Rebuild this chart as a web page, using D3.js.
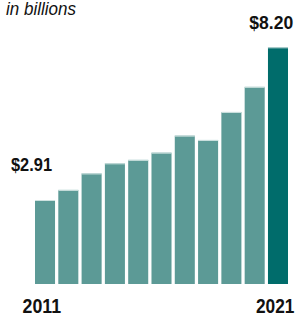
<!DOCTYPE html>
<html>
<head>
<meta charset="utf-8">
<script src="https://cdn.jsdelivr.net/npm/d3@7"></script>
<style>
  body { margin: 0; background: #fff; }
  text { font-family: "Liberation Sans", Arial, sans-serif; }
</style>
</head>
<body>
<div id="chart"></div>
<script>
const years = [2011, 2012, 2013, 2014, 2015, 2016, 2017, 2018, 2019, 2020, 2021];
const values = [2.91, 3.26, 3.83, 4.18, 4.30, 4.55, 5.14, 4.99, 5.96, 6.83, 8.20];
const valueLabels = ["$2.91", "", "", "", "", "", "", "", "", "", "$8.20"];
const tickYears = [2011, 2021];

const w = 296, h = 316;
const baseY = 284, topY = 47.3;

const svg = d3.select("#chart")
    .append("svg")
    .attr("width", w)
    .attr("height", h);

const x = d3.scaleBand()
    .domain(years)
    .range([35, 288])
    .paddingInner(0.14)
    .paddingOuter(0);

const y = d3.scaleLinear()
    .domain([0, 8.20])
    .range([baseY, topY]);

// subtitle, squeezed to look like the condensed face of the original
svg.append("text")
    .attr("x", 6)
    .attr("y", 15)
    .attr("textLength", 70)
    .attr("lengthAdjust", "spacingAndGlyphs")
    .style("font-style", "italic")
    .style("font-size", "18px")
    .attr("fill", "#111")
    .text("in billions");

const data = years.map((yr, i) => ({year: yr, value: values[i], label: valueLabels[i]}));

svg.selectAll("rect.bar")
    .data(data)
    .join("rect")
    .attr("class", "bar")
    .attr("x", d => x(d.year))
    .attr("y", d => y(d.value))
    .attr("width", x.bandwidth())
    .attr("height", d => baseY - y(d.value))
    .attr("fill", d => d.year === 2021 ? "#006c6b" : "#5c9a96");

// light edge on the bar tops
svg.selectAll("line.cap")
    .data(data)
    .join("line")
    .attr("class", "cap")
    .attr("x1", d => x(d.year))
    .attr("x2", d => x(d.year) + x.bandwidth())
    .attr("y1", d => y(d.value) + 0.5)
    .attr("y2", d => y(d.value) + 0.5)
    .attr("stroke", "#cfe2e0")
    .attr("stroke-width", 1);

// value labels for first and last bar
svg.selectAll("text.val")
    .data(data.filter(d => d.label))
    .join("text")
    .attr("class", "val")
    .attr("x", d => d.year === 2021 ? x(d.year) + x.bandwidth() + 5.3 : x(d.year) - 24)
    .attr("y", d => y(d.value) - (d.year === 2021 ? 18.3 : 29.3))
    .attr("text-anchor", d => d.year === 2021 ? "end" : "start")
    .attr("textLength", d => d.year === 2021 ? 44 : 41)
    .attr("lengthAdjust", "spacingAndGlyphs")
    .style("font-weight", "bold")
    .style("font-size", "18.5px")
    .attr("fill", "#111")
    .text(d => d.label);

// year axis, only first and last labels
const axis = svg.append("g")
    .attr("transform", `translate(0, ${baseY})`)
    .call(d3.axisBottom(x).tickValues(tickYears).tickSize(0).tickPadding(0));
axis.select(".domain").remove();
axis.selectAll(".tick text")
    .attr("y", 28.5)
    .attr("dy", 0)
    .attr("text-anchor", d => d === 2011 ? "start" : "end")
    .attr("dx", d => d === 2011 ? -22.5 : 16.5)
    .attr("textLength", 38.5)
    .attr("lengthAdjust", "spacingAndGlyphs")
    .style("font-family", "'Liberation Sans', Arial, sans-serif")
    .style("font-weight", "bold")
    .style("font-size", "20.5px")
    .attr("fill", "#111");
</script>
</body>
</html>
